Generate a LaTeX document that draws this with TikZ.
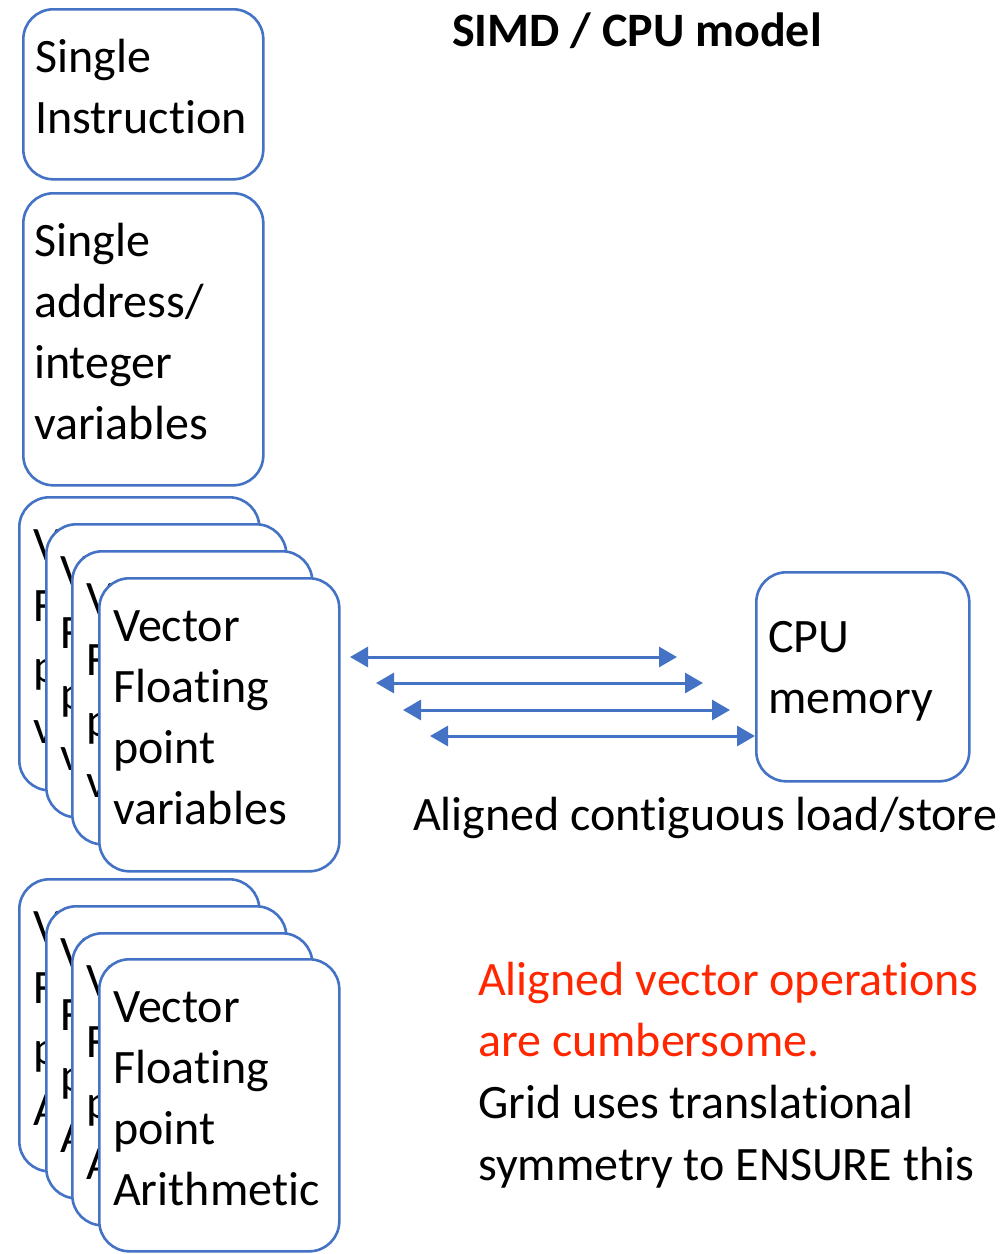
\documentclass[tikz,border=0pt]{standalone}
\usepackage{fontspec}
\setmainfont{Carlito}[Ligatures={NoCommon}]
\usetikzlibrary{arrows.meta}
\definecolor{boxblue}{RGB}{68,114,196}
\definecolor{alertred}{RGB}{255,38,0}
\tikzset{
  card/.style={draw=boxblue,line width=2.6pt,rounded corners=30pt,fill=white,anchor=north west,inner sep=0pt,minimum width=240pt},
  txt/.style={anchor=base west,inner sep=0pt,font=\fontsize{48}{61}\selectfont},
  biarrow/.style={draw=boxblue,line width=3pt,{Triangle[length=18pt,width=20pt]}-{Triangle[length=18pt,width=20pt]}}
}
\newcommand\mycard[6]{%
  \node[card,minimum height=#4pt] (#1) at (#2,#3) {};
  \foreach \l [count=\i] in {#6}
    \node[txt] at ([xshift=#5pt,yshift={-(64+61*(\i-1))*1pt}]#1.north west) {\l};
}
\begin{document}
\begin{tikzpicture}[x=1pt,y=-1pt]
\useasboundingbox (0,0) rectangle (1001,1254);
% left column
\mycard{si}{22}{8}{170}{13}{Single,Instruction}
\mycard{sa}{22}{192}{292}{12}{Single,address/,integer,variables}
% stack of variable cards
\mycard{va}{18}{496}{293}{15}{Vector,Floating,point,variables}
\mycard{vb}{45}{523}{293}{15}{Vector,Floating,point,variables}
\mycard{vc}{71}{550}{293}{15}{Vector,Floating,point,variables}
\mycard{vd}{98}{577}{293}{15}{Vector,Floating,point,variables}
% stack of arithmetic cards
\mycard{aa}{18}{878}{292}{15}{Vector,Floating,point,Arithmetic}
\mycard{ab}{45}{905}{292}{15}{Vector,Floating,point,Arithmetic}
\mycard{ac}{71}{932}{292}{15}{Vector,Floating,point,Arithmetic}
\mycard{ad}{98}{958}{292}{15}{Vector,Floating,point,Arithmetic}
% CPU memory
\node[card,minimum width=213pt,minimum height=209pt] (cpu) at (755,571) {};
\node[txt] (cpu1) at ([xshift=13pt,yshift=-81pt]cpu.north west) {CPU};
\node[txt] (cpu2) at ([xshift=13pt,yshift=-142pt]cpu.north west) {memory};
% arrows
\coordinate (l1) at (350,657); \coordinate (r1) at (677,657);
\coordinate (l2) at (376,683); \coordinate (r2) at (703,683);
\coordinate (l3) at (403,710); \coordinate (r3) at (730,710);
\coordinate (l4) at (430,736);
\draw[biarrow] (l1) -- (r1);
\draw[biarrow] (l2) -- (r2);
\draw[biarrow] (l3) -- (r3);
\draw[biarrow] (l4) -- (cpu.west |- l4);
% labels
\node[txt,font=\fontsize{48}{61}\selectfont\bfseries] (title) at (452,46) {SIMD / CPU model};
\node[txt] (lsl) at (413,830) {Aligned contiguous load/store};
\node[txt,text=alertred] (n1) at (478,995) {Aligned vector operations};
\node[txt,text=alertred] (n2) at (478,1056) {are cumbersome.};
\node[txt] (n3) at (478,1118) {Grid uses translational};
\node[txt] (n4) at (478,1180) {symmetry to ENSURE this};
\end{tikzpicture}
\end{document}
